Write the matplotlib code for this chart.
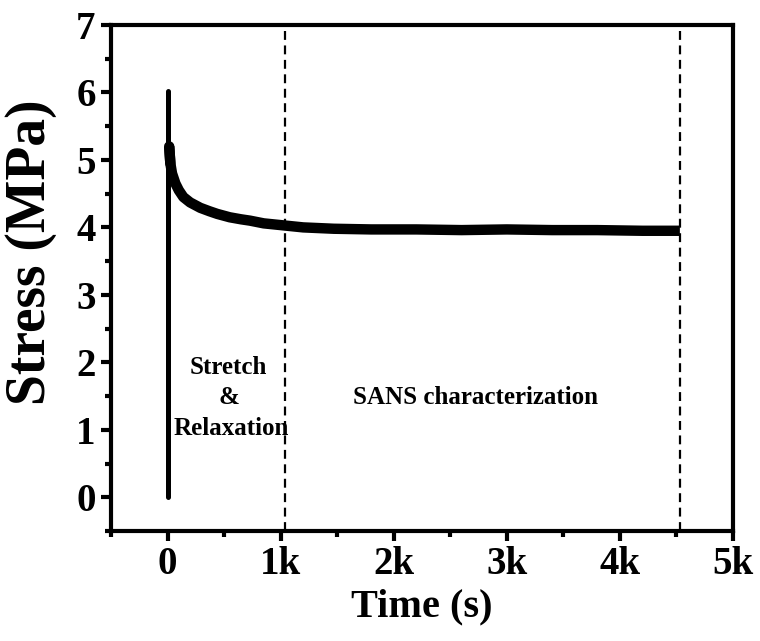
import matplotlib
matplotlib.use("Agg")
import matplotlib.pyplot as plt
from matplotlib.ticker import MultipleLocator

plt.rcParams['font.family'] = ['Liberation Serif', 'DejaVu Serif']
plt.rcParams['font.weight'] = 'bold'

# loading step: stretch at t = 0
stretch_t = [0, 0]
stretch_s = [0.0, 6.02]

# stress relaxation while held
relax_t = [15, 25, 40, 70, 100, 140, 200, 290, 370, 440, 550, 650, 730, 850,
           1025, 1200, 1470, 1800, 2200, 2600, 3000, 3400, 3800, 4200, 4530]
relax_s = [5.20, 4.95, 4.80, 4.65, 4.55, 4.45, 4.37, 4.29, 4.24, 4.20, 4.15,
           4.12, 4.10, 4.06, 4.03, 4.00, 3.98, 3.97, 3.97, 3.96, 3.97, 3.96,
           3.96, 3.95, 3.95]

# phase boundaries (s)
phase_bounds = [1040, 4530]

xticks = [0, 1000, 2000, 3000, 4000, 5000]
xtick_labels = ['0', '1k', '2k', '3k', '4k', '5k']
yticks = [0, 1, 2, 3, 4, 5, 6, 7]

fig = plt.figure(figsize=(7.6, 6.41), dpi=100)
ax = fig.add_axes([0.146, 0.1716, 0.8185, 0.7894])

ax.plot(stretch_t, stretch_s, color='black', lw=3.6, solid_capstyle='round')
ax.plot(relax_t[:2], relax_s[:2], color='black', lw=7.5, solid_capstyle='round')
ax.plot(relax_t, relax_s, color='black', lw=7.5, solid_capstyle='butt')
for xb in phase_bounds:
    ax.axvline(xb, color='black', lw=1.6, linestyle=(0, (4, 2.5)))

ax.text(540, 1.93, 'Stretch', ha='center', va='center', fontsize=18)
ax.text(540, 1.48, '&', ha='center', va='center', fontsize=18)
ax.text(560, 1.02, 'Relaxation', ha='center', va='center', fontsize=18)
ax.text(2720, 1.48, 'SANS characterization', ha='center', va='center', fontsize=18)

ax.set_xlim(-500, 5000)
ax.set_ylim(-0.5, 7)
ax.set_xticks(xticks)
ax.set_xticklabels(xtick_labels)
ax.set_yticks(yticks)
ax.xaxis.set_minor_locator(MultipleLocator(500))
ax.yaxis.set_minor_locator(MultipleLocator(0.5))

for s in ax.spines.values():
    s.set_linewidth(3)
ax.tick_params(which='major', direction='out', length=7, width=3, labelsize=28, pad=4)
ax.tick_params(which='minor', direction='out', length=4, width=3)

ax.set_xlabel('Time (s)', fontsize=29, fontweight='bold', labelpad=4)
ax.set_ylabel('Stress (MPa)', fontsize=40, fontweight='bold')
ax.yaxis.set_label_coords(-0.128, 0.551)
ax.yaxis.label.set_va('center')

plt.savefig('out.png', dpi=100)
plt.close(fig)
